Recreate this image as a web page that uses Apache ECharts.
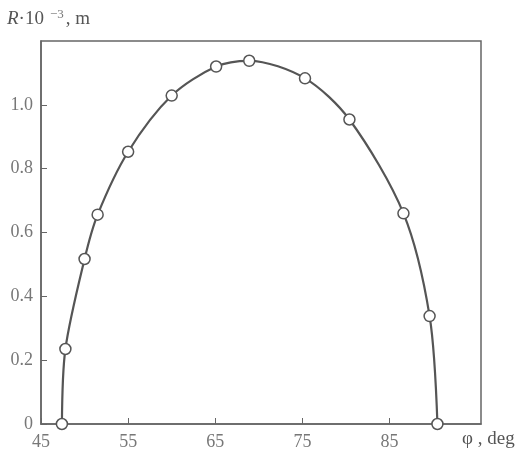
<!DOCTYPE html>
<html>
<head>
<meta charset="utf-8">
<script src="https://cdn.jsdelivr.net/npm/echarts@6/dist/echarts.min.js"></script>
<style>html,body{margin:0;padding:0;background:#fff;}#c{width:527px;height:453px;}</style>
</head>
<body>
<div id="c"></div>
<script>
const phiDeg = [47.4, 47.8, 50.0, 51.5, 55.0, 60.0, 65.1, 68.9, 75.3, 80.4, 86.6, 89.6, 90.5];
const rangeR = [0, 0.235, 0.517, 0.656, 0.853, 1.029, 1.120, 1.138, 1.083, 0.954, 0.660, 0.338, 0];
const xTicks = [45, 55, 65, 75, 85];
const yTicks = [0, 0.2, 0.4, 0.6, 0.8, 1.0];

const font = '"Liberation Serif", "DejaVu Serif", serif';
const chart = echarts.init(document.getElementById('c'));
chart.setOption({
  backgroundColor: '#fff',
  animation: false,
  grid: { left: 41, right: 46, top: 41, bottom: 29, show: true, borderColor: '#666', borderWidth: 1.5, backgroundColor: 'transparent' },
  xAxis: {
    type: 'value', min: 45, max: 95.5,
    splitLine: { show: false },
    axisLine: { lineStyle: { color: '#666', width: 1.5 } },
    axisTick: { inside: true, length: 6, customValues: xTicks, lineStyle: { color: '#666' } },
    axisLabel: { customValues: xTicks, margin: 9, color: '#777', fontFamily: font, fontSize: 18 }
  },
  yAxis: {
    type: 'value', min: 0, max: 1.2,
    splitLine: { show: false },
    axisLine: { lineStyle: { color: '#666', width: 1.5 } },
    axisTick: { inside: true, length: 6, customValues: yTicks, lineStyle: { color: '#666' } },
    axisLabel: { customValues: yTicks, margin: 8, color: '#777', fontFamily: font, fontSize: 18,
      formatter: v => v === 0 ? '0' : v.toFixed(1) }
  },
  graphic: [
    { type: 'text', left: 7, top: 8, style: {
        text: '{i|R}·10{s|−3}, m', fill: '#555', font: '19px ' + font,
        rich: { i: { fontStyle: 'italic', fontFamily: font, fontSize: 19, fill: '#555' },
                s: { fontSize: 13, fontFamily: font, verticalAlign: 'top', padding: [0,2,9,6], fill: '#777' } } } },
    { type: 'text', left: 462, top: 430, style: { text: 'φ , deg', fill: '#555', font: '19px ' + font } }
  ],
  series: [{
    type: 'line', data: phiDeg.map((x, i) => [x, rangeR[i]]),
    smooth: 0.3,
    lineStyle: { color: '#555', width: 2.2 },
    symbol: 'circle', symbolSize: 11,
    itemStyle: { color: '#fff', borderColor: '#555', borderWidth: 1.5 }
  }]
});
</script>
</body>
</html>
